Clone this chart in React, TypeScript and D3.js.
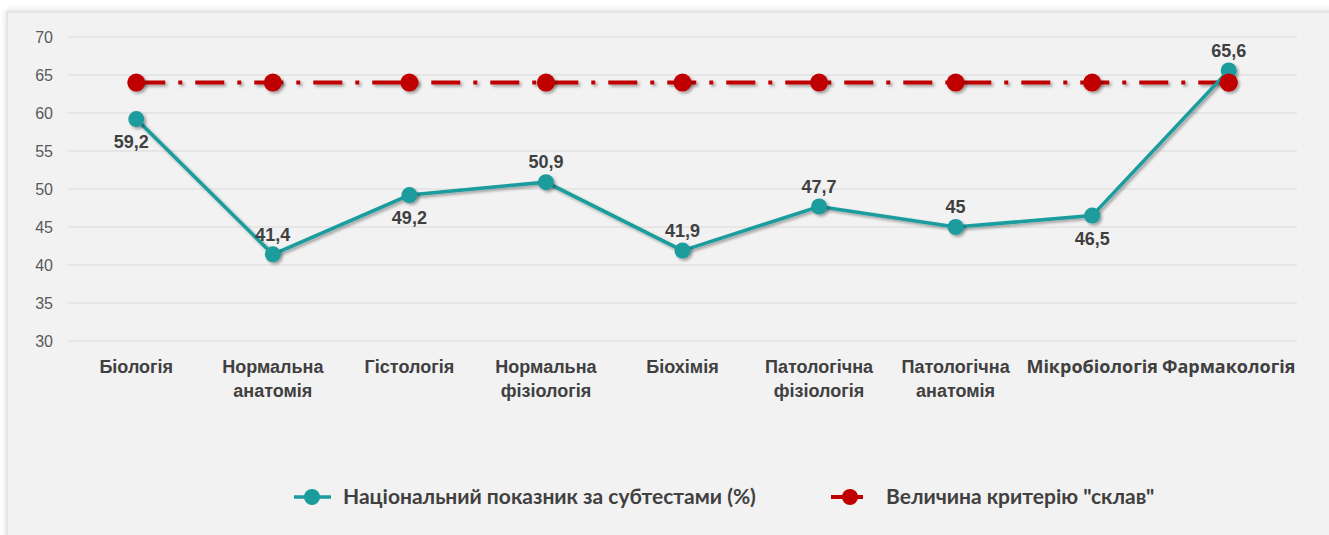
import React from "react";
import * as d3 from "d3";

const categories: string[][] = [
  ["Біологія"],
  ["Нормальна", "анатомія"],
  ["Гістологія"],
  ["Нормальна", "фізіологія"],
  ["Біохімія"],
  ["Патологічна", "фізіологія"],
  ["Патологічна", "анатомія"],
  ["Мікробіологія"],
  ["Фармакологія"],
];
const nationalValues = [59.2, 41.4, 49.2, 50.9, 41.9, 47.7, 45, 46.5, 65.6];
const criterionValues = [64, 64, 64, 64, 64, 64, 64, 64, 64];
const labelSide = ["below", "above", "below", "above", "above", "above", "above", "below", "above"];
const yTicks = [30, 35, 40, 45, 50, 55, 60, 65, 70];
const seriesNames = ["Національний показник за субтестами (%)", "Величина критерію \"склав\""];

const W = 1329;
const H = 535;
const TEAL = "#1a9c9c";
const RED = "#c00000";

export default function App() {
  const keys = categories.map((_, i) => String(i));
  const x = d3.scaleBand<string>().domain(keys).range([68, 1297]).padding(0);
  const cx = (i: number) => (x(String(i)) as number) + x.bandwidth() / 2;
  const y = d3.scaleLinear().domain([30, 70]).range([341, 37]);
  const line = d3
    .line<number>()
    .x((_, i) => cx(i))
    .y((d) => y(d));
  const fmt = (v: number) => String(v).replace(".", ",");
  const wideFontIdx = new Set([7, 8]);

  return (
    <svg
      width={W}
      height={H}
      style={{ position: "absolute", left: 0, top: 0, background: "#ffffff" }}
    >
      <defs>
        <filter id="sh" filterUnits="userSpaceOnUse" x={0} y={0} width={W} height={H}>
          <feDropShadow dx="2" dy="2" stdDeviation="1.8" floodColor="#000" floodOpacity="0.35" />
        </filter>
        <filter id="panelSh" filterUnits="userSpaceOnUse" x={0} y={0} width={W} height={H}>
          <feDropShadow dx="0" dy="-1" stdDeviation="3" floodColor="#000" floodOpacity="0.15" />
        </filter>
      </defs>
      <rect x={7} y={12} width={W} height={H} fill="#f2f2f2" stroke="#d6d6d6" strokeWidth={1} filter="url(#panelSh)" />

      {/* gridlines and y ticks */}
      {yTicks.map((t) => (
        <g key={t}>
          <line x1={68} x2={1297} y1={y(t)} y2={y(t)} stroke="#d9d9d9" strokeWidth={1} />
          <text
            x={53}
            y={y(t)}
            dy="0.35em"
            textAnchor="end"
            fontFamily="Liberation Sans, Arial, sans-serif"
            fontSize={16}
            fill="#595959"
          >
            {t}
          </text>
        </g>
      ))}

      {/* x labels */}
      {categories.map((lines, i) => (
        <text
          key={i}
          x={cx(i)}
          y={373}
          textAnchor="middle"
          fontFamily={wideFontIdx.has(i) ? "Open Sans, sans-serif" : "Liberation Sans, Arial, sans-serif"}
          fontWeight="bold"
          fontSize={18}
          fill="#404040"
        >
          {lines.map((l, j) => (
            <tspan key={j} x={cx(i)} dy={j === 0 ? 0 : 24}>
              {l}
            </tspan>
          ))}
        </text>
      ))}

      {/* criterion line */}
      <path
        d={line(criterionValues) || ""}
        fill="none"
        stroke={RED}
        strokeWidth={4}
        strokeDasharray="29 13 4 13"
        filter="url(#sh)"
      />
      {/* national line */}
      <path d={line(nationalValues) || ""} fill="none" stroke={TEAL} strokeWidth={3.5} filter="url(#sh)" />

      {criterionValues.map((v, i) => (
        <circle key={"r" + i} cx={cx(i)} cy={y(v)} r={9} fill={RED} filter="url(#sh)" />
      ))}
      {nationalValues.map((v, i) => (
        <circle key={"t" + i} cx={cx(i)} cy={y(v)} r={8} fill={TEAL} filter="url(#sh)" />
      ))}
      {/* redraw last red point over teal like reference */}
      <circle cx={cx(8)} cy={y(criterionValues[8])} r={9} fill={RED} />

      {/* data labels */}
      {nationalValues.map((v, i) => (
        <text
          key={"l" + i}
          x={cx(i) - (labelSide[i] === "below" && i === 0 ? 5 : 0)}
          y={y(v) + (labelSide[i] === "below" ? 23 : -20)}
          dy="0.35em"
          textAnchor="middle"
          fontFamily="Liberation Sans, Arial, sans-serif"
          fontWeight="bold"
          fontSize={18}
          fill="#404040"
        >
          {fmt(v)}
        </text>
      ))}

      {/* legend */}
      <g>
        <line x1={294} x2={331} y1={497} y2={497} stroke={TEAL} strokeWidth={3.5} />
        <circle cx={312} cy={497} r={8} fill={TEAL} />
        <text
          x={343}
          y={497}
          dy="0.35em"
          fontFamily="Lato, sans-serif"
          fontWeight="bold"
          fontSize={21}
          fill="#404040"
        >
          {seriesNames[0]}
        </text>
        <line x1={831} x2={863} y1={497} y2={497} stroke={RED} strokeWidth={4} />
        <circle cx={850} cy={497} r={8} fill={RED} />
        <text
          x={886}
          y={497}
          dy="0.35em"
          fontFamily="Lato, sans-serif"
          fontWeight="bold"
          fontSize={21}
          fill="#404040"
        >
          {seriesNames[1]}
        </text>
      </g>
    </svg>
  );
}
